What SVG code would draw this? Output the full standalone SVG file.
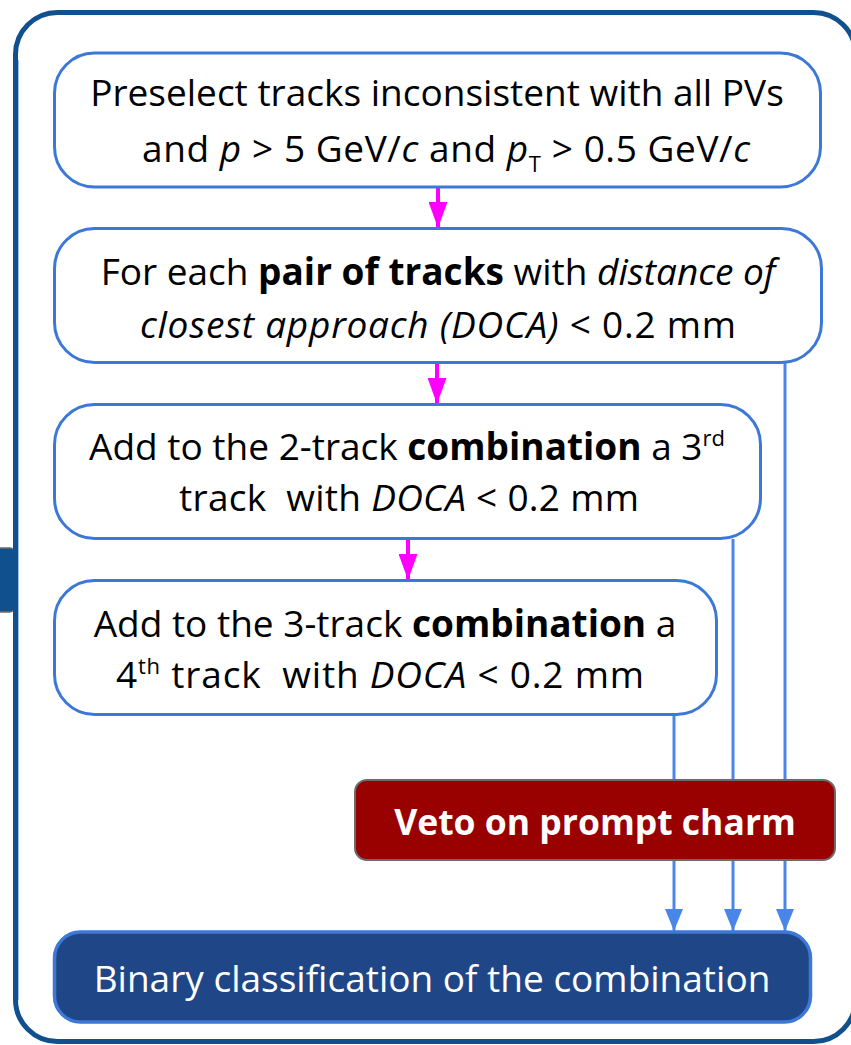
<svg xmlns="http://www.w3.org/2000/svg" width="851" height="1045" viewBox="0 0 851 1045">
  <defs>
    <style>
      .frame { fill: #ffffff; stroke: #10508f; stroke-width: 5; }
      .step { fill: #ffffff; stroke: #3c78d8; stroke-width: 3; }
      .label { font-family: "Open Sans", "Noto Sans", sans-serif; font-size: 37px; fill: #000000; text-anchor: middle; white-space: pre; font-variant-ligatures: none; }
      .b { font-weight: bold; }
      .i { font-style: italic; }
      .sup { font-size: 22px; }
      .veto { fill: #990000; stroke: #6b6b6b; stroke-width: 2; }
      .vetotext { font-family: "Open Sans", "Noto Sans", sans-serif; font-size: 35.5px; font-weight: bold; fill: #ffffff; text-anchor: middle; }
      .final { fill: #1f4788; stroke: #3c78d8; stroke-width: 3.5; }
      .finaltext { font-family: "Open Sans", "Noto Sans", sans-serif; font-size: 37px; fill: #ffffff; text-anchor: middle; font-variant-ligatures: none; }
      .flow { stroke: #ff00ff; stroke-width: 4; fill: none; }
      .link { stroke: #4a86e8; stroke-width: 3; fill: none; }
    </style>
    <!-- arrowheads drawn along +x so orient="auto" points them down the line -->
    <marker id="magHead" viewBox="0 0 26 19" refX="26" refY="9.5" markerWidth="26" markerHeight="19" markerUnits="userSpaceOnUse" orient="auto">
      <path d="M0,0 L26,9.5 L0,19 Z" fill="#ff00ff"/>
    </marker>
    <marker id="blueHead" viewBox="0 0 22 18" refX="22" refY="9" markerWidth="22" markerHeight="18" markerUnits="userSpaceOnUse" orient="auto">
      <path d="M0,0 L22,9 L0,18 Z" fill="#4a86e8"/>
    </marker>
  </defs>

  <!-- side tab on the left edge -->
  <g id="side-tab">
    <rect x="-10" y="548" width="24" height="64" rx="4" fill="#10508f" stroke="#6b6b6b" stroke-width="1.5"/>
  </g>

  <!-- outer panel -->
  <g id="panel">
    <rect class="frame" x="15.5" y="12.5" width="840" height="1029" rx="42"/>
    <line x1="18.5" y1="60" x2="18.5" y2="1000" stroke="#9fc0ea" stroke-width="1"/>
  </g>

  <!-- connectors -->
  <g id="connectors">
    <line class="flow" x1="438" y1="188" x2="438" y2="228" marker-end="url(#magHead)"/>
    <line class="flow" x1="437" y1="363" x2="437" y2="404" marker-end="url(#magHead)"/>
    <line class="flow" x1="408" y1="540" x2="408" y2="580" marker-end="url(#magHead)"/>

    <line class="link" x1="674" y1="715" x2="674" y2="780"/>
    <line class="link" x1="733" y1="539" x2="733" y2="780"/>
    <line class="link" x1="785" y1="362" x2="785" y2="780"/>

    <line class="link" x1="674" y1="860" x2="674" y2="931" marker-end="url(#blueHead)"/>
    <line class="link" x1="733" y1="860" x2="733" y2="931" marker-end="url(#blueHead)"/>
    <line class="link" x1="785" y1="860" x2="785" y2="931" marker-end="url(#blueHead)"/>
  </g>

  <!-- step 1 -->
  <g id="preselect">
    <rect class="step" x="54.5" y="53" width="766" height="134" rx="40"/>
    <text class="label" x="437" y="106">Preselect tracks inconsistent with all PVs</text>
    <text class="label" x="446" y="162" textLength="608" lengthAdjust="spacing">and <tspan class="i">p</tspan> &gt; 5 GeV/<tspan class="i">c</tspan> and <tspan class="i">p</tspan><tspan class="sup" dy="10">T</tspan><tspan dy="-10"> &gt; 0.5 GeV/</tspan><tspan class="i">c</tspan></text>
  </g>

  <!-- step 2 -->
  <g id="pair">
    <rect class="step" x="54.5" y="228.5" width="767" height="134" rx="40"/>
    <text class="label" x="438" y="285">For each <tspan class="b">pair of tracks</tspan> with <tspan class="i">distance of</tspan></text>
    <text class="label" x="438" y="338" textLength="596" lengthAdjust="spacing"><tspan class="i">closest approach (DOCA)</tspan> &lt; 0.2 mm</text>
  </g>

  <!-- step 3 -->
  <g id="third-track">
    <rect class="step" x="54.5" y="404.5" width="706" height="134" rx="40"/>
    <text class="label" x="407" y="460">Add to the 2-track <tspan class="b">combination</tspan> a 3<tspan class="sup" dy="-14">rd</tspan></text>
    <text class="label" x="409" y="511" textLength="460" lengthAdjust="spacing">track  with <tspan class="i">DOCA</tspan> &lt; 0.2 mm</text>
  </g>

  <!-- step 4 -->
  <g id="fourth-track">
    <rect class="step" x="54.5" y="580.5" width="662" height="134" rx="40"/>
    <text class="label" x="385" y="637">Add to the 3-track <tspan class="b">combination</tspan> a</text>
    <text class="label" x="380" y="688" textLength="528" lengthAdjust="spacing">4<tspan class="sup" dy="-14">th</tspan><tspan dy="14"> track  with </tspan><tspan class="i">DOCA</tspan> &lt; 0.2 mm</text>
  </g>

  <!-- veto -->
  <g id="veto">
    <rect class="veto" x="355" y="780" width="480" height="80" rx="12"/>
    <text class="vetotext" x="595" y="835">Veto on prompt charm</text>
  </g>

  <!-- classifier -->
  <g id="classifier">
    <rect class="final" x="54.5" y="932" width="756" height="90" rx="26"/>
    <text class="finaltext" x="432" y="992">Binary classification of the combination</text>
  </g>
</svg>
